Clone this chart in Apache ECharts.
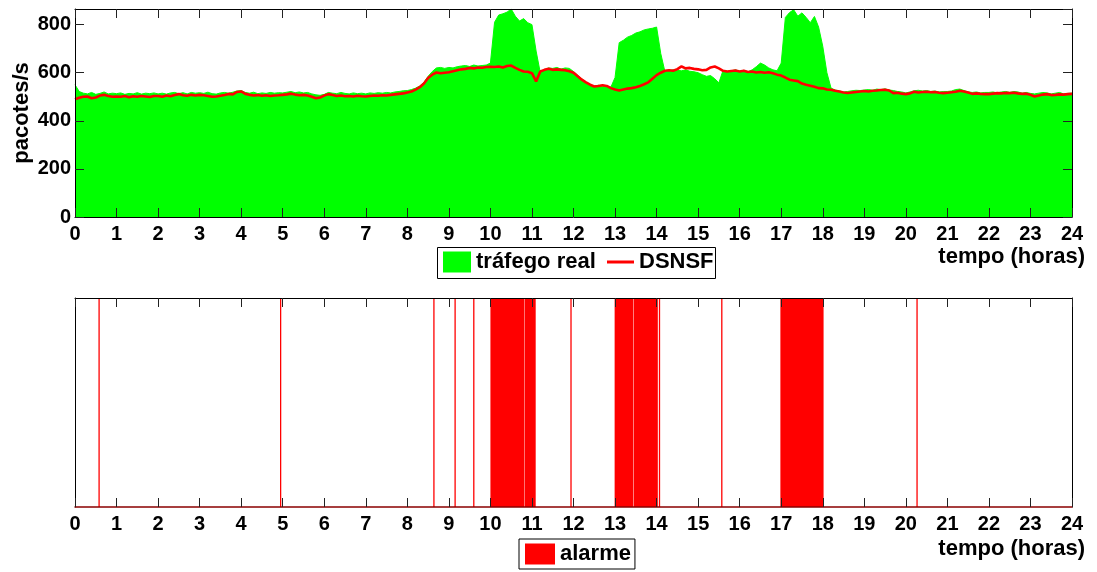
<!DOCTYPE html>
<html>
<head>
<meta charset="utf-8">
<script src="https://cdn.jsdelivr.net/npm/echarts@6/dist/echarts.min.js"></script>
<style>
html,body{margin:0;padding:0;background:#fff;}
#chart{width:1097px;height:572px;}
</style>
</head>
<body>
<div id="chart"></div>
<script>
// sample spacing of the traffic curves (hours)
const hourStep = 0.1;

// tráfego real (pacotes/s), one value every 0.1 h from 0 to 24
const trafficReal = [
  550, 522, 515, 512, 518, 510, 514, 520, 512, 515,
  513, 516, 510, 514, 512, 517, 511, 515, 513, 516,
  512, 515, 511, 516, 518, 513, 517, 512, 518, 515,
  517, 514, 519, 513, 511, 516, 518, 515, 519, 524,
  526, 518, 515, 519, 513, 516, 514, 518, 515, 517,
  516, 519, 522, 517, 520, 516, 518, 512, 508, 506,
  510, 518, 515, 513, 518, 514, 512, 516, 513, 515,
  512, 516, 514, 517, 515, 518, 516, 520, 522, 525,
  526, 530, 536, 545, 560, 585, 605, 620, 622, 618,
  622, 620, 625, 628, 630, 626, 632, 628, 630, 632,
  640, 810, 840, 845, 852, 865, 835, 815, 825, 808,
  800, 690, 600, 612, 620, 618, 622, 615, 620, 618,
  605, 590, 575, 560, 550, 545, 548, 542, 545, 540,
  580, 725, 735, 748, 755, 765, 770, 778, 782, 785,
  790, 680, 605, 610, 612, 610, 608, 612, 606, 604,
  600, 592, 585, 588, 575, 558, 610, 605, 608, 612,
  606, 610, 604, 612, 625, 640, 632, 620, 612, 608,
  640, 830, 850, 862, 835, 849, 830, 808, 834, 790,
  710, 600, 536, 528, 524, 520, 522, 525, 527, 526,
  528, 530, 527, 532, 530, 533, 528, 526, 522, 520,
  516, 520, 525, 527, 524, 526, 522, 524, 520, 522,
  522, 524, 530, 532, 526, 520, 518, 520, 516, 518,
  518, 520, 516, 520, 522, 518, 522, 520, 515, 518,
  514, 512, 515, 518, 516, 512, 515, 518, 512, 514,
  515
];

// DSNSF (pacotes/s), one value every 0.1 h from 0 to 24
const dsnsf = [
  490, 496, 500, 501, 494, 497, 505, 508, 503, 500,
  501, 500, 503, 498, 502, 500, 503, 501, 499, 503,
  503, 500, 505, 502, 507, 511, 506, 504, 508, 505,
  508, 506, 503, 500, 501, 504, 507, 512, 510, 520,
  522, 512, 508, 505, 507, 504, 506, 503, 505, 506,
  508, 510, 513, 509, 506, 508, 505, 500, 494, 497,
  505, 511, 507, 503, 505, 502, 503, 501, 504, 502,
  501, 503, 505, 504, 506, 505, 508, 510, 512, 514,
  518, 522, 530, 540, 555, 578, 592, 601, 598, 600,
  602, 606, 610, 614, 616, 620, 618, 622, 621, 624,
  625, 624, 626, 622, 628, 630, 620, 612, 605, 604,
  598, 564, 605, 612, 617, 612, 614, 612, 610, 606,
  600, 585, 571, 560, 550, 543, 545, 548, 545, 536,
  530, 526, 530, 534, 536, 540, 545, 552, 560, 575,
  590, 600, 608, 610, 608, 615, 626, 618, 620, 616,
  614, 610, 612, 622, 626, 618, 608, 605, 607, 609,
  605, 608, 603, 605, 601, 603, 600, 602, 598, 592,
  588, 580, 571, 568, 565, 555, 550, 546, 542, 536,
  535, 530, 529, 525, 522, 518, 516, 518, 520, 522,
  524, 522, 525, 526, 528, 529, 526, 515, 517, 513,
  511, 514, 521, 518, 520, 521, 519, 520, 517, 515,
  517, 519, 521, 525, 522, 518, 512, 514, 512, 511,
  511, 513, 515, 514, 516, 515, 517, 514, 512, 513,
  508, 501, 505, 509, 511, 507, 508, 510, 509, 511,
  512
];

// alarm intervals (hours): start and end of each alarm
const alarmStart = [0.58, 4.95, 8.64, 9.15, 9.60, 10.00, 10.82, 11.94, 12.99, 13.45, 14.07, 15.57, 16.98, 20.27];
const alarmEnd   = [0.58, 4.95, 8.64, 9.15, 9.60, 10.81, 11.09, 11.94, 13.44, 14.03, 14.07, 15.57, 18.02, 20.27];

// axis settings
const xMin = 0, xMax = 24, xInterval = 1;
const yMin = 0, yMax = 865, yInterval = 200;

const seriesNames = ['tráfego real', 'DSNSF', 'alarme'];
const xName = 'tempo (horas)';
const yName = 'pacotes/s';

const FONT = "'Liberation Sans', Arial, sans-serif";

const trafficData = trafficReal.map((v, i) => [+(i * hourStep).toFixed(2), v]);
const dsnsfData = dsnsf.map((v, i) => [+(i * hourStep).toFixed(2), v]);
const alarmData = alarmStart.map((s, i) => [s, alarmEnd[i]]);

const chart = echarts.init(document.getElementById('chart'), null, {renderer: 'canvas'});

const tickStyle = {inside: true, length: 9, lineStyle: {color: '#222', width: 1}};
const lbl = {fontSize: 20, fontWeight: 'bold', color: '#000', fontFamily: FONT};
const legendText = {fontSize: 22, fontWeight: 'bold', color: '#000', fontFamily: FONT};

function xAxisPair(grid) {
  return [
    {gridIndex: grid, type: 'value', min: xMin, max: xMax, interval: xInterval, z: 10,
     axisLine: {show: true, onZero: false, lineStyle: {color: grid === 1 ? '#8a0000' : '#000', width: grid === 1 ? 1.5 : 1}},
     axisTick: tickStyle, splitLine: {show: false},
     axisLabel: Object.assign({margin: 7}, lbl)},
    {gridIndex: grid, type: 'value', position: 'top', min: xMin, max: xMax, interval: xInterval, z: 10,
     axisLine: {show: true, onZero: false, lineStyle: {color: '#000', width: 1}},
     axisTick: tickStyle, axisLabel: {show: false}, splitLine: {show: false}}
  ];
}

const option = {
  animation: false,
  backgroundColor: '#fff',
  grid: [
    {left: 75, right: 25, top: 9, height: 208, containLabel: false, outerBoundsMode: 'none'},
    {left: 75, right: 25, top: 298, height: 209, containLabel: false, outerBoundsMode: 'none'}
  ],
  xAxis: xAxisPair(0).concat(xAxisPair(1)),
  yAxis: [
    {gridIndex: 0, type: 'value', min: yMin, max: yMax, interval: yInterval, z: 10,
     axisLine: {show: true, onZero: false, lineStyle: {color: '#000', width: 1}},
     axisTick: tickStyle, splitLine: {show: false},
     axisLabel: Object.assign({margin: 4, showMaxLabel: false}, lbl)},
    {gridIndex: 0, type: 'value', position: 'right', min: yMin, max: yMax, interval: yInterval, z: 10,
     axisLine: {show: true, onZero: false, lineStyle: {color: '#000', width: 1}},
     axisTick: tickStyle, axisLabel: {show: false}, splitLine: {show: false}},
    {gridIndex: 1, type: 'value', min: 0, max: 1, z: 10,
     axisLine: {show: true, onZero: false, lineStyle: {color: '#000', width: 1}},
     axisTick: {show: false}, axisLabel: {show: false}, splitLine: {show: false}},
    {gridIndex: 1, type: 'value', position: 'right', min: 0, max: 1, z: 10,
     axisLine: {show: true, onZero: false, lineStyle: {color: '#000', width: 1}},
     axisTick: {show: false}, axisLabel: {show: false}, splitLine: {show: false}}
  ],
  legend: [
    {data: [{name: seriesNames[0], icon: 'rect'}],
     left: 437, top: 247, padding: [4, 0, 4, 6], itemWidth: 28, itemHeight: 21,
     selectedMode: false, textStyle: legendText},
    {data: [{name: seriesNames[1], icon: 'rect'}],
     left: 601, top: 247, padding: [4, 0, 4, 6], itemWidth: 27, itemHeight: 3,
     selectedMode: false, textStyle: legendText},
    {data: [{name: seriesNames[2], icon: 'rect'}],
     left: 519, top: 539,
     padding: [4, 4, 4, 6], itemWidth: 30, itemHeight: 21,
     borderColor: '#000', borderWidth: 1, backgroundColor: '#fff', borderRadius: 0,
     selectedMode: false, textStyle: legendText}
  ],
  graphic: [
    {type: 'rect', left: 437, top: 247, z: -1, silent: true,
     shape: {width: 278, height: 31}, style: {fill: '#fff', stroke: '#000', lineWidth: 1}},
    {type: 'text', x: 22, y: 113, rotation: Math.PI / 2, z: 20, silent: true,
     style: {text: yName, font: "bold 22px " + FONT, fill: '#000', align: 'center', verticalAlign: 'middle'}},
    {type: 'text', right: 12, top: 246, z: 20,
     style: {text: xName, font: "bold 22px " + FONT, fill: '#000'}},
    {type: 'text', right: 12, top: 538, z: 20,
     style: {text: xName, font: "bold 22px " + FONT, fill: '#000'}}
  ],
  series: [
    {name: seriesNames[0], type: 'line', xAxisIndex: 0, yAxisIndex: 0,
     data: trafficData, symbol: 'none', z: 2, clip: true,
     lineStyle: {color: '#00ff00', width: 1}, itemStyle: {color: '#00ff00'},
     areaStyle: {color: '#00ff00', opacity: 1}},
    {name: seriesNames[1], type: 'line', xAxisIndex: 0, yAxisIndex: 0,
     data: dsnsfData, symbol: 'none', z: 3, clip: true,
     lineStyle: {color: '#ff0000', width: 2.6}, itemStyle: {color: '#ff0000'}},
    {name: seriesNames[2], type: 'custom', xAxisIndex: 2, yAxisIndex: 2,
     data: alarmData, encode: {x: [0, 1]}, itemStyle: {color: '#ff0000'},
     renderItem: function (params, api) {
       const p0 = api.coord([api.value(0), 1]);
       const p1 = api.coord([api.value(1), 0]);
       const thin = (p1[0] - p0[0]) < 1.3;
       const w = thin ? 1.3 : (p1[0] - p0[0]);
       return {type: 'rect', shape: {x: thin ? p0[0] - 0.65 : p0[0], y: p0[1], width: w, height: p1[1] - p0[1]},
               style: {fill: '#ff0000'}};
     }}
  ]
};
chart.setOption(option);
</script>
</body>
</html>
